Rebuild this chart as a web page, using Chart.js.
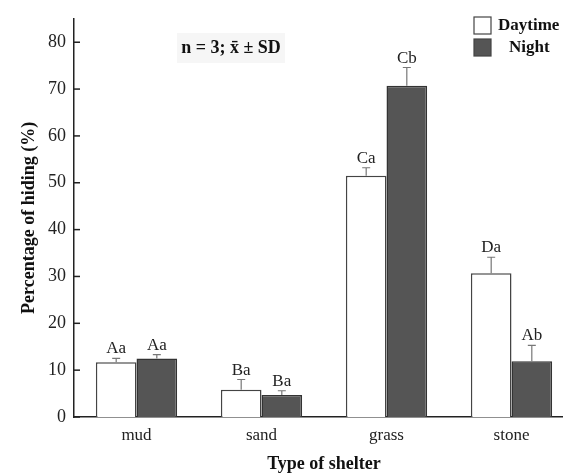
<!DOCTYPE html>
<html>
<head>
<meta charset="utf-8">
<script src="https://cdn.jsdelivr.net/npm/chart.js@4.4.1/dist/chart.umd.min.js"></script>
<style>
html, body { margin: 0; padding: 0; background: #fff; overflow: hidden; }
#wrap { position: relative; width: 574px; height: 473px; }
</style>
</head>
<body>
<div id="wrap"><canvas id="graficoAbrigo"></canvas></div>
<script>
const shelters = ['mud', 'sand', 'grass', 'stone'];
const dayMean = [11.7, 5.8, 51.5, 30.7];
const daySD = [0.8, 2.2, 1.7, 3.4];
const nightMean = [12.5, 4.7, 70.7, 11.9];
const nightSD = [0.8, 0.9, 3.9, 3.4];
const dayLetters = ['Aa', 'Ba', 'Ca', 'Da'];
const nightLetters = ['Aa', 'Ba', 'Cb', 'Ab'];
const yTicks = [0, 10, 20, 30, 40, 50, 60, 70, 80];

const serif = '"Liberation Serif", "Times New Roman", serif';
const sdList = [daySD, nightSD];
const letterList = [dayLetters, nightLetters];

// error bars (up only) + letters over them, inner ticks, legend and note
const extras = {
    id: 'extras',
    afterDatasetsDraw(chart) {
        const ctx = chart.ctx;
        const y = chart.scales.y;
        ctx.save();
        chart.data.datasets.forEach((ds, i) => {
            const meta = chart.getDatasetMeta(i);
            meta.data.forEach((bar, j) => {
                const top = y.getPixelForValue(ds.data[j] + sdList[i][j]);
                ctx.strokeStyle = '#777';
                ctx.lineWidth = 1.2;
                ctx.beginPath();
                ctx.moveTo(bar.x, bar.y);
                ctx.lineTo(bar.x, top);
                ctx.moveTo(bar.x - 4, top);
                ctx.lineTo(bar.x + 4, top);
                ctx.stroke();
                ctx.fillStyle = '#222';
                ctx.font = '17px ' + serif;
                ctx.textAlign = 'center';
                ctx.textBaseline = 'alphabetic';
                ctx.fillText(letterList[i][j], bar.x, top - 5);
            });
        });
        ctx.restore();
    },
    afterDraw(chart) {
        const ctx = chart.ctx;
        const y = chart.scales.y;
        const left = chart.chartArea.left;
        ctx.save();
        ctx.strokeStyle = '#222';
        ctx.lineWidth = 1.5;
        yTicks.forEach(v => {
            const py = y.getPixelForValue(v);
            ctx.beginPath();
            ctx.moveTo(left, py);
            ctx.lineTo(left + 6, py);
            ctx.stroke();
        });

        // note
        ctx.fillStyle = '#f6f6f6';
        ctx.fillRect(177, 33, 108, 30);
        ctx.fillStyle = '#111';
        ctx.font = 'bold 18px ' + serif;
        ctx.textAlign = 'center';
        ctx.textBaseline = 'middle';
        ctx.fillText('n = 3; x\u0304 \u00b1 SD', 231, 48);

        // legend
        const rows = [{ y: 17, tx: 498 }, { y: 39, tx: 509 }];
        chart.data.datasets.forEach((ds, i) => {
            const r = rows[i];
            ctx.fillStyle = ds.backgroundColor;
            ctx.strokeStyle = '#444';
            ctx.lineWidth = 1.2;
            ctx.fillRect(474, r.y, 17, 17);
            ctx.strokeRect(474, r.y, 17, 17);
            ctx.fillStyle = '#111';
            ctx.font = 'bold 17px ' + serif;
            ctx.textAlign = 'left';
            ctx.textBaseline = 'middle';
            ctx.fillText(ds.label, r.tx, r.y + 9);
        });
        ctx.restore();
    }
};

new Chart(document.getElementById('graficoAbrigo'), {
    type: 'bar',
    data: {
        labels: shelters,
        datasets: [{
            label: 'Daytime',
            data: dayMean,
            backgroundColor: '#ffffff',
            borderColor: '#444',
            borderWidth: 1.5,
            categoryPercentage: 0.65,
            barPercentage: 1
        }, {
            label: 'Night',
            data: nightMean,
            backgroundColor: '#555555',
            borderColor: '#333',
            borderWidth: 1.5,
            categoryPercentage: 0.65,
            barPercentage: 1
        }]
    },
    options: {
        responsive: true,
        maintainAspectRatio: false,
        animation: false,
        layout: { padding: { top: 14, left: 0, right: 0, bottom: 0 } },
        plugins: {
            legend: { display: false },
            tooltip: { enabled: false }
        },
        scales: {
            x: {
                grid: { display: false, drawTicks: false },
                border: { color: '#222', width: 1.5 },
                ticks: { color: '#222', padding: 8, font: { family: serif, size: 17 } },
                title: {
                    display: true,
                    text: 'Type of shelter',
                    color: '#111',
                    font: { family: serif, size: 18, weight: 'bold', lineHeight: 1 },
                    padding: { top: 0, bottom: 0 }
                },
                afterFit(scale) { scale.height = 56; }
            },
            y: {
                min: 0,
                max: 85,
                grid: { display: false, drawTicks: false },
                border: { color: '#222', width: 1.5 },
                afterBuildTicks(scale) { scale.ticks = yTicks.map(v => ({ value: v })); },
                ticks: { color: '#222', padding: 8, font: { family: serif, size: 18 } },
                title: {
                    display: true,
                    text: 'Percentage of hiding (%)',
                    color: '#111',
                    font: { family: serif, size: 18, weight: 'bold', lineHeight: 1 },
                    padding: { top: 20, bottom: 0 }
                },
                afterFit(scale) { scale.width = 74; }
            }
        }
    },
    plugins: [extras]
});
</script>
</body>
</html>
